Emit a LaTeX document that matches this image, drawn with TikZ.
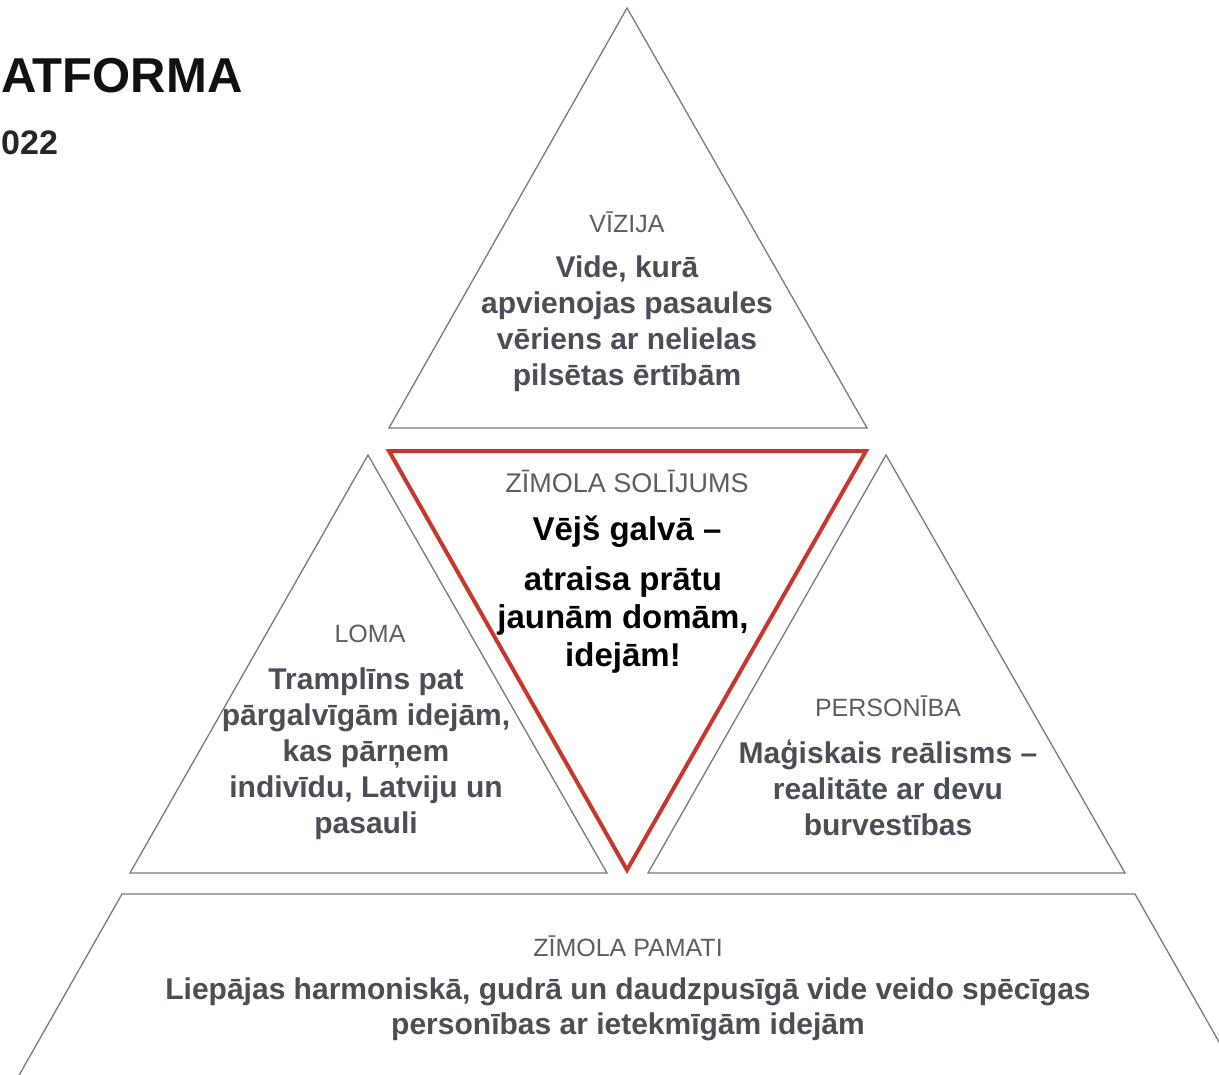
\documentclass[tikz,border=0pt]{standalone}
\usepackage{fontspec}
\setmainfont{Liberation Sans}
\definecolor{triGray}{HTML}{7A7A7A}
\definecolor{promRed}{HTML}{C8372D}
\definecolor{labGray}{HTML}{5E5E5E}
\definecolor{bodyGray}{HTML}{4A4E57}
\definecolor{titleBlack}{HTML}{111111}
\begin{document}
\begin{tikzpicture}[x=1pt,y=-1pt,
  tri/.style={draw=triGray,line width=1.3pt,line join=miter},
  promiseline/.style={draw=promRed,line width=4pt,line join=miter},
  lab/.style={text=labGray,font=\fontsize{25}{30}\selectfont,inner sep=0pt},
  body/.style={text=bodyGray,font=\bfseries\fontsize{30}{36}\selectfont,align=center,inner sep=0pt},
  promtext/.style={text=black,font=\bfseries\fontsize{33}{38}\selectfont,align=center,inner sep=0pt},
  titletext/.style={text=titleBlack,font=\bfseries,inner sep=0pt}]
\useasboundingbox (0,0) rectangle (1219,1075);
\clip (0,0) rectangle (1219,1075);
\fill[white] (0,0) rectangle (1219,1075);

% title
\node[titletext,font=\bfseries\fontsize{49}{56}\selectfont,anchor=base west] (title) at (1,93) {ATFORMA};
\node[titletext,font=\bfseries\fontsize{34}{40}\selectfont,anchor=base west,text=black!85] (year) at (1,155) {022};

% shapes
\draw[tri] (627,8) coordinate (vTop) -- (389,428) coordinate (vBL) -- (867,428) coordinate (vBR) -- cycle;
\draw[tri] (368,455) coordinate (lTop) -- (130,873) coordinate (lBL) -- (607,873) coordinate (lBR) -- cycle;
\draw[tri] (886,455) coordinate (pTop) -- (648,873) coordinate (pBL) -- (1125,873) coordinate (pBR) -- cycle;
\draw[tri] (5,1100) coordinate (bBL) -- (122,894) coordinate (bTL) -- (1135,894) coordinate (bTR) -- (1252,1100) coordinate (bBR);
\draw[promiseline] (389,451) coordinate (sTL) -- (866,451) coordinate (sTR) -- (627,870) coordinate (sB) -- cycle;

% vision
\node[lab] (visLab) at (627,222) {VĪZIJA};
\node[body] (visBody) at (627,324) {Vide, kurā\\apvienojas pasaules\\vēriens ar nelielas\\pilsētas ērtībām};

% promise
\node[lab,font=\fontsize{27}{32}\selectfont] (promLab) at (627,481) {ZĪMOLA SOLĪJUMS};
\node[promtext] (promHead) at (627,532) {Vējš galvā –};
\node[promtext] (promBody) at (623,620) {atraisa prātu\\jaunām domām,\\idejām!};

% role
\node[lab] (roleLab) at (370,634) {LOMA};
\node[body] (roleBody) at (366,754) {Tramplīns pat\\pārgalvīgām idejām,\\kas pārņem\\indivīdu, Latviju un\\pasauli};

% personality
\node[lab] (persLab) at (888,706) {PERSONĪBA};
\node[body] (persBody) at (888,788) {Maģiskais reālisms –\\realitāte ar devu\\burvestības};

% base
\node[lab] (baseLab) at (628,946) {ZĪMOLA PAMATI};
\node[body,font=\bfseries\fontsize{30}{35}\selectfont] (baseBody) at (628,1009) {Liepājas harmoniskā, gudrā un daudzpusīgā vide veido spēcīgas\\personības ar ietekmīgām idejām};
\end{tikzpicture}
\end{document}
